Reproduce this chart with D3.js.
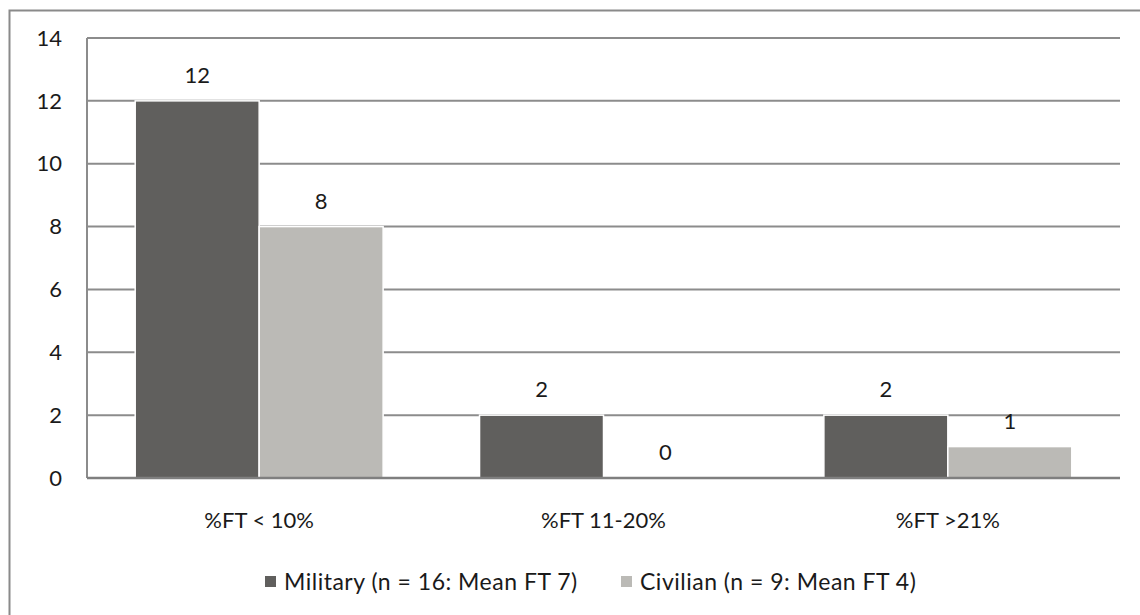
<!DOCTYPE html>
<html>
<head>
<meta charset="utf-8">
<script src="https://cdn.jsdelivr.net/npm/d3@7"></script>
<style>
  body { margin: 0; background: #fff; }
  text { font-family: Lato, "Open Sans", sans-serif; fill: #1a1a1a; }
</style>
</head>
<body>
<script>
var categories = ['%FT < 10%', '%FT 11-20%', '%FT >21%'];
var seriesNames = ['Military (n = 16: Mean FT 7)', 'Civilian (n = 9: Mean FT 4)'];
var military = [12, 2, 2];
var civilian = [8, 0, 1];
var yTicks = [0, 2, 4, 6, 8, 10, 12, 14];
var colors = ['#605f5d', '#bbbab6'];

var width = 1140;
var height = 615;
var margin = { top: 38, right: 20, bottom: 137, left: 87 };

var svg = d3.select('body').append('svg')
    .attr('width', width)
    .attr('height', height);

// outer chart frame
svg.append('rect')
    .attr('x', 9.5).attr('y', 10.5)
    .attr('width', width + 20).attr('height', height + 20)
    .attr('fill', 'none')
    .attr('stroke', '#8a8a8a')
    .attr('stroke-width', 2);

var x0 = d3.scaleBand()
    .domain(categories)
    .range([margin.left, width - margin.right])
    .paddingInner(0.28)
    .paddingOuter(0.14);

var x1 = d3.scaleBand()
    .domain([0, 1])
    .range([0, x0.bandwidth()]);

var y = d3.scaleLinear()
    .domain([0, 14])
    .range([height - margin.bottom, margin.top]);

// gridlines
svg.append('g')
    .selectAll('line')
    .data(yTicks.filter(function (d) { return d > 0; }))
    .enter().append('line')
    .attr('x1', margin.left).attr('x2', width - margin.right)
    .attr('y1', function (d) { return y(d); })
    .attr('y2', function (d) { return y(d); })
    .attr('stroke', '#8c8c8c')
    .attr('stroke-width', 2);

// left axis line
svg.append('line')
    .attr('x1', margin.left).attr('x2', margin.left)
    .attr('y1', y(14)).attr('y2', y(0))
    .attr('stroke', '#8c8c8c')
    .attr('stroke-width', 2);

// y tick labels
svg.append('g')
    .selectAll('text')
    .data(yTicks)
    .enter().append('text')
    .attr('x', 62)
    .attr('y', function (d) { return y(d); })
    .attr('dy', '0.35em')
    .attr('text-anchor', 'end')
    .attr('font-size', 22)
    .text(function (d) { return d; });

var rows = categories.map(function (c, i) {
    return { cat: c, vals: [military[i], civilian[i]] };
});

var groups = svg.append('g')
    .selectAll('g')
    .data(rows)
    .enter().append('g')
    .attr('transform', function (d) { return 'translate(' + x0(d.cat) + ',0)'; });

groups.selectAll('rect')
    .data(function (d) { return d.vals.map(function (v, k) { return { v: v, k: k }; }); })
    .enter().append('rect')
    .attr('x', function (d) { return x1(d.k); })
    .attr('y', function (d) { return y(d.v); })
    .attr('width', x1.bandwidth())
    .attr('height', function (d) { return y(0) - y(d.v); })
    .attr('fill', function (d) { return colors[d.k]; })
    .attr('stroke', '#fff')
    .attr('stroke-width', 1.5);

groups.selectAll('text')
    .data(function (d) { return d.vals.map(function (v, k) { return { v: v, k: k }; }); })
    .enter().append('text')
    .attr('x', function (d) { return x1(d.k) + x1.bandwidth() / 2; })
    .attr('y', function (d) { return y(d.v) - 18; })
    .attr('text-anchor', 'middle')
    .attr('font-size', 22)
    .text(function (d) { return d.v; });

// bottom axis line
svg.append('line')
    .attr('x1', margin.left).attr('x2', width - margin.right)
    .attr('y1', y(0)).attr('y2', y(0))
    .attr('stroke', '#7f7f7f')
    .attr('stroke-width', 2.5);

// category labels
svg.append('g')
    .selectAll('text')
    .data(categories)
    .enter().append('text')
    .attr('x', function (d) { return x0(d) + x0.bandwidth() / 2; })
    .attr('y', 528)
    .attr('text-anchor', 'middle')
    .attr('font-size', 22)
    .text(function (d) { return d; });

// legend
var legendX = [265, 621];
var legend = svg.append('g')
    .selectAll('g')
    .data(seriesNames)
    .enter().append('g')
    .attr('transform', function (d, i) { return 'translate(' + legendX[i] + ',582)'; });

legend.append('rect')
    .attr('x', 0).attr('y', -6)
    .attr('width', 11).attr('height', 11)
    .attr('fill', function (d, i) { return colors[i]; });

legend.append('text')
    .attr('x', 19)
    .attr('dy', '0.35em')
    .attr('font-size', 23)
    .attr('letter-spacing', 0.5)
    .text(function (d) { return d; });
</script>
</body>
</html>
